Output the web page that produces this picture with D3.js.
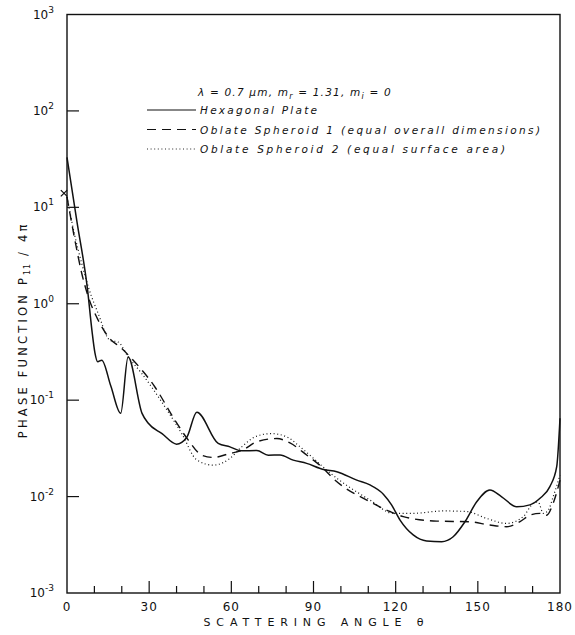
<!DOCTYPE html>
<html>
<head>
<meta charset="utf-8">
<script src="https://cdn.jsdelivr.net/npm/d3@7"></script>
<style>
  body { margin: 0; background: #fff; }
  svg text { font-family: "DejaVu Sans", sans-serif; fill: #111; }
</style>
</head>
<body>
<div id="chart"></div>
<script>
"use strict";

// scattering angle (deg) and phase function P11/4pi
const hexAngle = [0, 3.6, 7.5, 9.1, 10.2, 11.2, 12.7, 16, 19.6, 22.3, 27.4, 29.6, 34.7, 40, 43.7, 47.4,
  55.2, 59.5, 63.8, 69.3, 73.5, 77.8, 82.6, 87.5, 93.6, 98.5, 105.8, 110.6, 115.5, 118.5, 121.6,
  126.4, 131.3, 136.8, 141, 145.3, 149.6, 154.4, 158.7, 164.2, 169, 172.7, 176.3, 178.8, 180];
const hexValue = [33, 7.2, 1.4, 0.53, 0.31, 0.25, 0.26, 0.14, 0.073, 0.28, 0.073, 0.058, 0.045, 0.035, 0.041, 0.075,
  0.0356, 0.0328, 0.0298, 0.030, 0.0269, 0.027, 0.0239, 0.0221, 0.0191, 0.0181, 0.0148, 0.0132, 0.0106, 0.0082, 0.0057,
  0.0040, 0.00346, 0.0034, 0.00383, 0.00548, 0.00884, 0.0117, 0.00995, 0.00784, 0.0082, 0.0096, 0.0127, 0.0204, 0.065];

const sph1Angle = [0, 2.9, 5.4, 7.8, 11.4, 15.1, 20, 23.6, 32.1, 39.4, 44.3, 49.2, 53.4, 59.5, 63.8, 69.3,
  76.6, 81.4, 87.5, 93.6, 97.2, 110.6, 117.9, 122.8, 135, 147.1, 154.4, 160.5, 165.4, 169, 172.7, 175.1, 177.5, 180];
const sph1Value = [12.8, 4.55, 2.06, 1.175, 0.675, 0.453, 0.343, 0.27, 0.137, 0.062, 0.0385, 0.0269, 0.0255, 0.028, 0.030, 0.037,
  0.040, 0.036, 0.027, 0.0196, 0.0154, 0.00884, 0.0070, 0.0062, 0.00557, 0.00548, 0.00507, 0.00487, 0.0055, 0.0064, 0.0067, 0.0064, 0.0085, 0.0148];

const sph2Angle = [0, 2.9, 5.4, 7.8, 11.4, 15.7, 18.7, 22.4, 27.3, 35.8, 41.9, 47.4, 53.4, 59.5, 63.8, 69.3,
  74.7, 80.2, 85.1, 90, 94.8, 110.6, 119.1, 126.4, 137.4, 145.9, 153.2, 160.5, 166.6, 170.2, 172, 173.9, 175.7, 177.5, 180];
const sph2Value = [12.8, 5.0, 2.61, 1.49, 0.79, 0.418, 0.40, 0.28, 0.189, 0.085, 0.045, 0.024, 0.0212, 0.0249, 0.0328, 0.0424,
  0.045, 0.0417, 0.0328, 0.0249, 0.0188, 0.0092, 0.0067, 0.0067, 0.0071, 0.0070, 0.00594, 0.00527, 0.0062, 0.0085, 0.0088, 0.0067, 0.0072, 0.00995, 0.0167];

const forwardMark = [0, 14];

const xTicks = d3.range(0, 181, 10);
const xLabels = [0, 30, 60, 90, 120, 150, 180];
const yExponents = [-3, -2, -1, 0, 1, 2, 3];

const legendNames = [
  "Hexagonal Plate",
  "Oblate Spheroid 1 (equal overall dimensions)",
  "Oblate Spheroid 2 (equal surface area)"
];

let margin = { top: 14.5, right: 15, bottom: 42, left: 67 };
let width = 575 - margin.left - margin.right;
let height = 635 - margin.top - margin.bottom;

let x = d3.scaleLinear().domain([0, 180]).range([0, width]);
let y = d3.scaleLog().domain([1e-3, 1e3]).range([height, 0]);

let svg = d3.select('#chart')
  .append('svg')
  .attr('width', 575)
  .attr('height', 635);

let g = svg.append('g')
  .attr('transform', 'translate(' + margin.left + ',' + margin.top + ')');

// frame
g.append('rect')
  .attr('width', width)
  .attr('height', height)
  .attr('fill', 'none')
  .attr('stroke', '#111')
  .attr('stroke-width', 1.4);

// x ticks, drawn inward from the bottom
g.selectAll('.xtick')
  .data(xTicks.slice(1, -1))
  .enter().append('line')
  .attr('x1', d => x(d)).attr('x2', d => x(d))
  .attr('y1', height)
  .attr('y2', d => height - (d % 30 === 0 ? 12 : 7))
  .attr('stroke', '#111')
  .attr('stroke-width', 1.2);

g.selectAll('.xlabel')
  .data(xLabels)
  .enter().append('text')
  .attr('x', d => x(d))
  .attr('y', height + 18)
  .attr('text-anchor', 'middle')
  .attr('font-size', 12)
  .attr('letter-spacing', 1)
  .text(d => d);

// y ticks at the decades
g.selectAll('.ytick')
  .data(yExponents.slice(1, -1))
  .enter().append('line')
  .attr('x1', 0).attr('x2', 12)
  .attr('y1', d => y(Math.pow(10, d)))
  .attr('y2', d => y(Math.pow(10, d)))
  .attr('stroke', '#111')
  .attr('stroke-width', 1.2);

let yl = g.selectAll('.ylabel')
  .data(yExponents)
  .enter().append('text')
  .attr('x', -13)
  .attr('y', d => y(Math.pow(10, d)) + 4)
  .attr('text-anchor', 'end');
yl.append('tspan').attr('font-size', 12).text('10');
yl.append('tspan').attr('font-size', 9).attr('dy', -6).text(d => d < 0 ? '-' + (-d) : d);

// axis titles
svg.append('text')
  .attr('x', margin.left + width / 2)
  .attr('y', 626)
  .attr('text-anchor', 'middle')
  .attr('font-size', 11)
  .attr('textLength', 220)
  .attr('lengthAdjust', 'spacing')
  .text('SCATTERING ANGLE θ');

let ytitle = svg.append('text')
  .attr('transform', 'translate(27,' + (margin.top + y(1) + 26) + ') rotate(-90)')
  .attr('text-anchor', 'middle')
  .attr('font-size', 11.5)
  .attr('letter-spacing', 3.2);
ytitle.append('tspan').text('PHASE  FUNCTION  P');
ytitle.append('tspan').attr('font-size', 8).attr('dy', 3).attr('letter-spacing', 1).text('11');
ytitle.append('tspan').attr('dy', -3).text(' / 4π');

// curves
let line = d3.line()
  .x(d => x(d[0]))
  .y(d => y(d[1]))
  .curve(d3.curveMonotoneX);

let series = [
  { angle: hexAngle, value: hexValue, dash: null, w: 1.5 },
  { angle: sph1Angle, value: sph1Value, dash: '9,6', w: 1.4 },
  { angle: sph2Angle, value: sph2Value, dash: '1,2.6', w: 1.2 }
];

series.forEach(s => {
  g.append('path')
    .datum(d3.zip(s.angle, s.value))
    .attr('d', line)
    .attr('fill', 'none')
    .attr('stroke', '#111')
    .attr('stroke-width', s.w)
    .attr('stroke-dasharray', s.dash);
});

g.append('path')
  .attr('d', d3.symbol(d3.symbolTimes, 28)())
  .attr('transform', 'translate(' + (x(forwardMark[0]) - 3) + ',' + y(forwardMark[1]) + ')')
  .attr('fill', 'none')
  .attr('stroke', '#111')
  .attr('stroke-width', 1.2);

// legend
let legend = svg.append('g').attr('transform', 'translate(147,96)');

let title = legend.append('text')
  .attr('x', 51)
  .attr('y', 0)
  .attr('font-size', 10.5)
  .attr('font-style', 'italic')
  .attr('letter-spacing', 1.2);
title.append('tspan').text('λ = 0.7 μm,  m');
title.append('tspan').attr('font-size', 8).attr('dy', 3).text('r');
title.append('tspan').attr('dy', -3).text(' = 1.31,  m');
title.append('tspan').attr('font-size', 8).attr('dy', 3).text('i');
title.append('tspan').attr('dy', -3).text(' = 0');

let rows = legend.selectAll('.row')
  .data(series)
  .enter().append('g')
  .attr('transform', (d, i) => 'translate(0,' + (14 + i * 19.5) + ')');

rows.append('line')
  .attr('x1', 0).attr('x2', 49)
  .attr('stroke', '#111')
  .attr('stroke-width', d => d.w - 0.3)
  .attr('stroke-dasharray', d => d.dash);

let legendLen = [117, 340, 305];
rows.append('text')
  .attr('x', 53)
  .attr('y', 4)
  .attr('font-size', 10.5)
  .attr('font-style', 'italic')
  .attr('textLength', (d, i) => legendLen[i])
  .attr('lengthAdjust', 'spacing')
  .text((d, i) => legendNames[i]);
</script>
</body>
</html>
